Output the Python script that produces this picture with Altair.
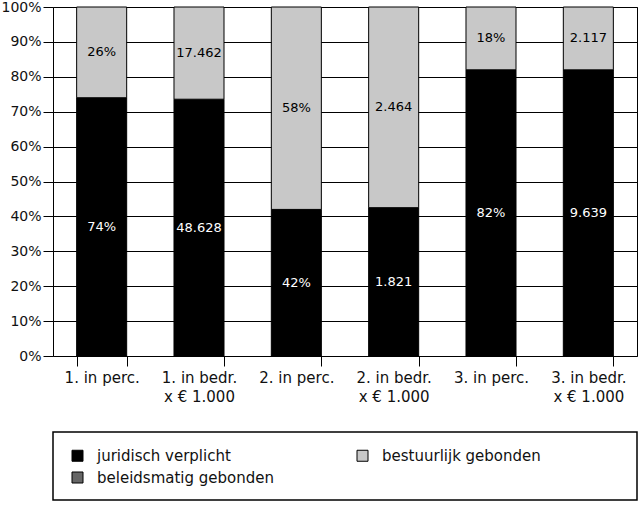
import altair as alt
import pandas as pd

categories = ["1. in perc.", "1. in bedr.\nx € 1.000", "2. in perc.",
              "2. in bedr.\nx € 1.000", "3. in perc.", "3. in bedr.\nx € 1.000"]
juridisch = [74, 48628, 42, 1821, 82, 9639]
bestuurlijk = [26, 17462, 58, 2464, 18, 2117]
juridisch_labels = ["74%", "48.628", "42%", "1.821", "82%", "9.639"]
bestuurlijk_labels = ["26%", "17.462", "58%", "2.464", "18%", "2.117"]
series = ["juridisch verplicht", "bestuurlijk gebonden", "beleidsmatig gebonden"]
colors = ["#000000", "#c8c8c8", "#666666"]
y_ticks = [0, 0.1, 0.2, 0.3, 0.4, 0.5, 0.6, 0.7, 0.8, 0.9, 1.0]

rows = []
for i, c in enumerate(categories):
    rows.append(dict(cat=c, series=series[0], value=juridisch[i], label=juridisch_labels[i], order=0))
    rows.append(dict(cat=c, series=series[1], value=bestuurlijk[i], label=bestuurlijk_labels[i], order=1))
df = pd.DataFrame(rows)

FONT = "DejaVu Sans"

base = alt.Chart(df).transform_stack(
    stack="value", as_=["y0", "y1"], groupby=["cat"],
    sort=[alt.SortField("order", order="ascending")], offset="normalize"
).transform_calculate(ymid="(datum.y0 + datum.y1) / 2")

x_axis = alt.Axis(title=None, labelAngle=0, tickBand="extent",
                  labelExpr="datum.value ? split(datum.value, '\\n') : ''",
                  labelFontSize=15, labelLineHeight=19, tickSize=10, labelPadding=4,
                  domain=False, grid=False)
x_scale = alt.Scale(paddingInner=0.486, paddingOuter=0.243)
y_axis = alt.Axis(title=None, format=".0%", values=y_ticks, grid=True,
                  gridColor="black", gridOpacity=1, tickSize=10,
                  labelPadding=2, labelFontSize=14, domain=False,
                  labelOverlap=False)
y_scale = alt.Scale(domain=[0, 1], nice=False)

bars = base.mark_bar(stroke="black", strokeWidth=1).encode(
    x=alt.X("cat:N", sort=categories, scale=x_scale, axis=x_axis),
    y=alt.Y("y0:Q", scale=y_scale, axis=y_axis),
    y2="y1:Q",
    color=alt.Color("series:N", scale=alt.Scale(domain=series, range=colors),
                    legend=alt.Legend(title=None, orient="none", legendX=17, legendY=441,
                                      direction="horizontal",
                                      columns=2, columnPadding=80, rowPadding=6,
                                      symbolType="square", symbolSize=121,
                                      symbolStrokeColor="black", symbolStrokeWidth=1,
                                      labelFontSize=15, labelFont=FONT, labelOffset=12,
                                      labelLimit=400,
                                      labelColor="#111111", padding=0)),
)

texts = base.mark_text(fontSize=13, font=FONT).encode(
    x=alt.X("cat:N", sort=categories, scale=x_scale, axis=x_axis),
    y=alt.Y("ymid:Q", scale=y_scale, axis=y_axis),
    text="label:N",
    color=alt.condition(alt.datum.order == 0, alt.value("white"), alt.value("black")),
)

frame = alt.Chart(pd.DataFrame({"a": [0]})).mark_rect(
    fill="white", stroke="black", strokeWidth=1.5
).encode(x=alt.value(0), x2=alt.value(584), y=alt.value(425), y2=alt.value(493))

chart = alt.layer(frame, bars, texts).properties(
    width=584, height=349, autosize="none",
    padding={"left": 53, "top": 7, "right": 1, "bottom": 149},
).configure_view(stroke="black", strokeWidth=1).configure_axis(
    labelFont=FONT, labelColor="#111111", tickColor="black", tickWidth=1,
)

chart.save("out.html", embed_options={"renderer": "svg", "actions": False})
